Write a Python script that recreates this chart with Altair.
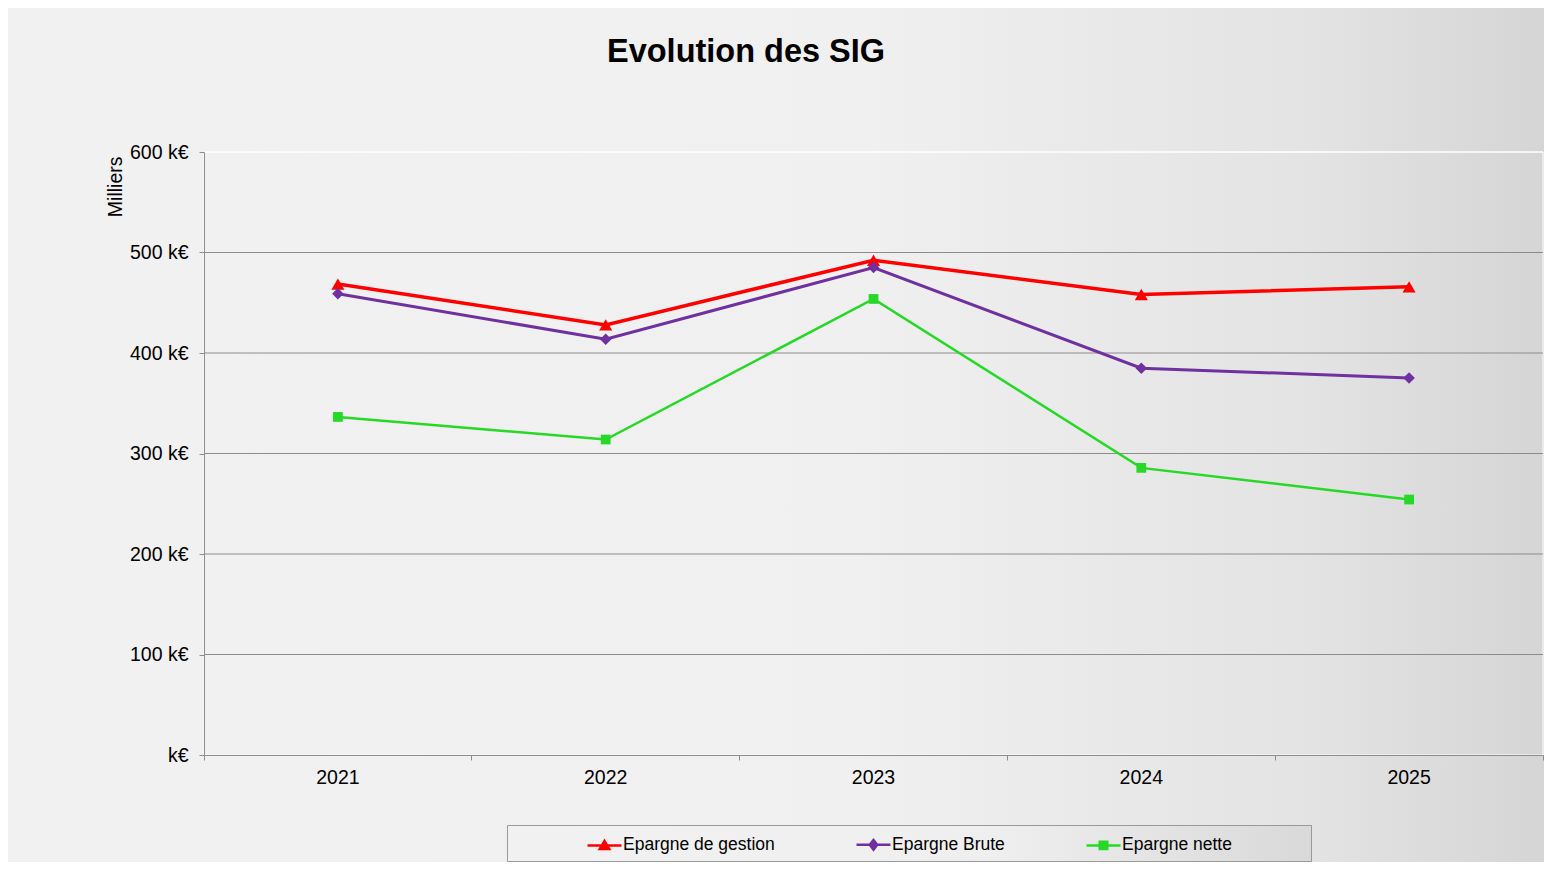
import altair as alt
import pandas as pd

# ---- data ----
annees = ["2021", "2022", "2023", "2024", "2025"]
series = ["Epargne de gestion", "Epargne Brute", "Epargne nette"]
epargne_gestion = [468.6, 428.0, 492.3, 458.2, 465.8]
epargne_brute = [459.0, 413.7, 485.0, 384.9, 375.2]
epargne_nette = [336.4, 313.9, 453.8, 285.7, 254.2]
y_ticks = [0, 100, 200, 300, 400, 500, 600]

couleurs = ["#ff0000", "#7030a0", "#26d926"]
formes = ["triangle-up", "diamond", "square"]
tailles = [170, 95, 81]
epaisseurs = [3.5, 2.5, 2]
# legend symbols: a line segment with the marker in its middle
formes_legende = [
    "M-1,0H1M-0.28,0.22L0,-0.26L0.28,0.22Z",
    "M-1,0H1M0,-0.28L0.22,0L0,0.28L-0.22,0Z",
    "M-1,0H1M-0.22,-0.22H0.22V0.22H-0.22Z",
]

rows = []
for nom, vals in zip(series, [epargne_gestion, epargne_brute, epargne_nette]):
    for a, v in zip(annees, vals):
        rows.append({"annee": a, "serie": nom, "valeur": v})
df = pd.DataFrame(rows)

grid_df = pd.DataFrame({
    "valeur": [t for t in y_ticks if t > 0],
    "c": ["#ffffff" if t == 600 else "#8c8c8c" for t in y_ticks if t > 0],
})

W, H = 1339, 603
PL, PT, PR, PB = 196, 144, 1, 107
FONT = "Liberation Sans"

x_axis = alt.Axis(
    title=None,
    bandPosition=1,
    tickExtra=True,
    labelAngle=0,
    tickSize=5,
    labelPadding=8,
    labelFont=FONT,
    labelFontSize=19.5,
    labelColor="#000000",
    domainColor="#8c8c8c",
    tickColor="#8c8c8c",
    grid=False,
    zindex=1,
)
x_enc = alt.X("annee:N", sort=annees,
              scale=alt.Scale(type="band", paddingInner=0, paddingOuter=0),
              axis=x_axis)

y_scale = alt.Scale(domain=[0, 600], nice=False, zero=True)
y_axis = alt.Axis(
    values=y_ticks,
    labelExpr="datum.value == 0 ? 'k€' : datum.value + ' k€'",
    title="Milliers",
    titleAngle=270,
    titleX=-89,
    titleY=4,
    titleAlign="right",
    titleBaseline="middle",
    titleFont=FONT,
    titleFontSize=19.5,
    titleFontWeight="normal",
    titleColor="#000000",
    labelFont=FONT,
    labelFontSize=19.5,
    labelColor="#000000",
    labelPadding=11,
    tickSize=5,
    tickColor="#8c8c8c",
    domainColor="#8c8c8c",
    grid=False,
    zindex=1,
)
y_enc = alt.Y("valeur:Q", scale=y_scale, axis=y_axis)

fond = alt.LinearGradient(
    gradient="linear",
    x1=0, x2=1, y1=0, y2=0,
    stops=[
        alt.GradientStop(offset=0, color="#f1f1f1"),
        alt.GradientStop(offset=0.55, color="#f0f0f0"),
        alt.GradientStop(offset=0.85, color="#e3e3e3"),
        alt.GradientStop(offset=1, color="#d5d5d5"),
    ],
)
fond_legende = alt.LinearGradient(
    gradient="linear",
    x1=0, x2=1, y1=0, y2=0,
    stops=[
        alt.GradientStop(offset=0, color="#f1f1f1"),
        alt.GradientStop(offset=0.6, color="#efefef"),
        alt.GradientStop(offset=1, color="#d9d9d9"),
    ],
)

fond_rect = alt.Chart(alt.Data(values=[{}])).mark_rect(fill=fond).encode(
    x=alt.value(-PL), x2=alt.value(W + PR),
    y=alt.value(-PT), y2=alt.value(H + PB),
)

cadre = alt.Chart(alt.Data(values=[{}])).mark_rect(
    fillOpacity=0, stroke="#ffffff", strokeWidth=1
).encode(x=alt.value(0), x2=alt.value(W), y=alt.value(0), y2=alt.value(H))

boite_legende = alt.Chart(alt.Data(values=[{}])).mark_rect(
    fill=fond_legende, stroke="#9a9a9a", strokeWidth=1
).encode(x=alt.value(303.5), x2=alt.value(1107.5), y=alt.value(673.5), y2=alt.value(709.5))

grille = alt.Chart(grid_df).mark_rule(strokeWidth=1).encode(
    y=alt.Y("valeur:Q", scale=y_scale, axis=y_axis),
    color=alt.Color("c:N", scale=None, legend=None),
)

base = alt.Chart(df)

lignes = base.mark_line().encode(
    x=x_enc,
    y=y_enc,
    color=alt.Color("serie:N", scale=alt.Scale(domain=series, range=couleurs), legend=None),
    strokeWidth=alt.StrokeWidth("serie:N", scale=alt.Scale(domain=series, range=epaisseurs), legend=None),
)

points = base.mark_point(filled=True, opacity=1).encode(
    x=x_enc,
    y=y_enc,
    color=alt.Color("serie:N", scale=alt.Scale(domain=series, range=couleurs), legend=None),
    shape=alt.Shape("serie:N", scale=alt.Scale(domain=series, range=formes), legend=None),
    size=alt.Size("serie:N", scale=alt.Scale(domain=series, range=tailles), legend=None),
)

leg = alt.Legend(
    title=None,
    orient="none",
    legendX=381,
    legendY=673,
    direction="horizontal",
    symbolSize=1156,
    symbolStrokeWidth=2.5,
    symbolOpacity=1,
    labelFont=FONT,
    labelFontSize=17.5,
    labelColor="#000000",
    labelOffset=0,
    columnPadding=76,
    padding=1,
    zindex=1,
)

legende = base.mark_point(filled=True, opacity=0).encode(
    x=x_enc,
    y=y_enc,
    color=alt.Color("serie:N", scale=alt.Scale(domain=series, range=couleurs), legend=leg),
    stroke=alt.Stroke("serie:N", scale=alt.Scale(domain=series, range=couleurs), legend=leg),
    shape=alt.Shape("serie:N", scale=alt.Scale(domain=series, range=formes_legende), legend=leg),
)

chart = (
    alt.layer(fond_rect, cadre, grille, boite_legende, lignes, points, legende)
    .resolve_scale(color="independent", shape="independent", size="independent",
                   stroke="independent", strokeWidth="independent")
    .properties(
        width=W,
        height=H,
        title=alt.TitleParams(
            "Evolution des SIG",
            anchor="start",
            frame="group",
            dx=403,
            dy=64,
            font=FONT,
            fontSize=32.5,
            fontWeight="bold",
            color="#000000",
            zindex=1,
        ),
        autosize=alt.AutoSizeParams(type="none"),
        padding={"left": PL, "top": PT, "right": PR, "bottom": PB},
        background="#f0f0f0",
    )
    .configure_view(stroke=None)
)

chart.save("out.html", embed_options={"renderer": "svg", "actions": False})
